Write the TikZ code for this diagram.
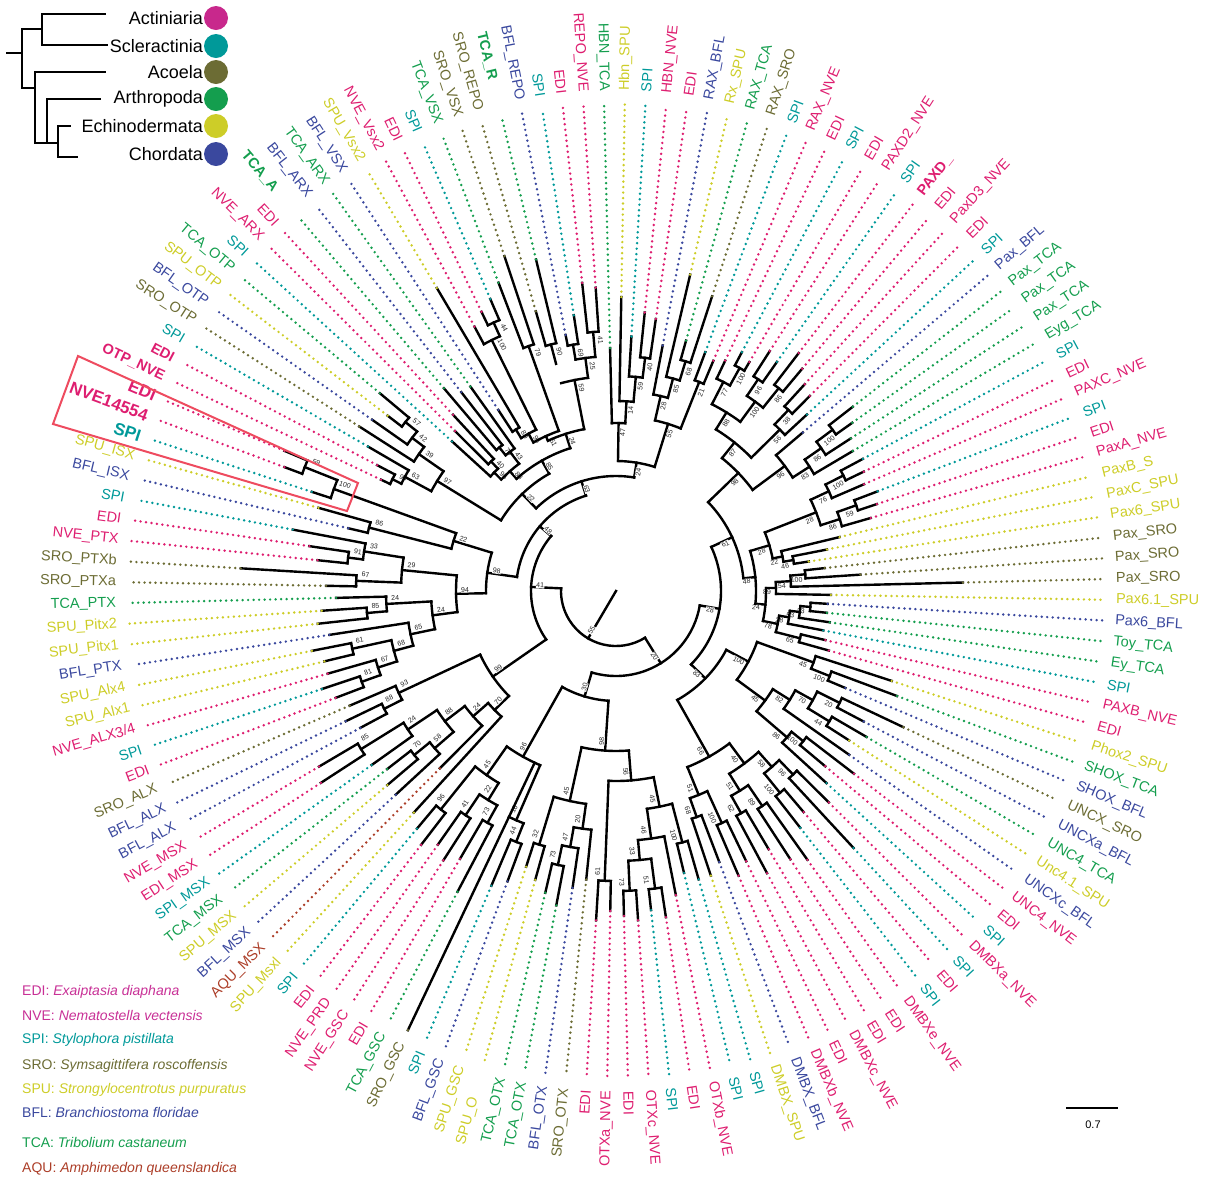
\documentclass[tikz,border=0pt]{standalone}
\usepackage{fontspec}
\setmainfont{Liberation Sans}

\definecolor{act}{RGB}{222,30,112}
\definecolor{spi}{RGB}{0,153,153}
\definecolor{sro}{RGB}{108,108,52}
\definecolor{tca}{RGB}{20,158,78}
\definecolor{spu}{RGB}{205,205,40}
\definecolor{bfl}{RGB}{58,72,158}
\definecolor{aqu}{RGB}{172,62,40}
\definecolor{legact}{RGB}{200,48,150}
\definecolor{dotact}{RGB}{200,40,140}
\definecolor{boxc}{RGB}{238,75,95}

\newcommand\lbf{\fontsize{14.5}{14.5}\selectfont}
\newcommand\bgf{\fontsize{17}{17}\selectfont}

\begin{document}
\begin{tikzpicture}[x=1pt,y=1pt,
  br/.style={line width=2.4pt, line cap=rect, black},
  leader/.style={line width=2.7pt, line cap=round, dash pattern=on 0pt off 5.5pt},
  lab/.style={inner sep=0pt},
  bsl/.style={font=\fontsize{7}{7}\selectfont, fill=white, inner sep=0.4pt, text=black!85},
  clado/.style={line width=2.5pt, line cap=rect},
  grp/.style={font=\fontsize{18}{18}\selectfont, anchor=east, inner sep=0pt},
  gdot/.style={circle, minimum size=24pt, inner sep=0pt},
  leg/.style={font=\fontsize{14}{14}\selectfont, anchor=west, inner sep=0pt}
]
\useasboundingbox (0,0) rectangle (1209,-1179);

% tree
\begin{scope}[shift={(616,-591)}]
\foreach \na/\nb/\nr/\np/\bv [count=\k] in {
  4/5/235/215/40, 3/4.5/215/190/59, 2/3.75/190/168/14, 1/2.875/168/130/47,
  10/11/225/175/21, 8/9/240/220/68, 7/8.5/220/200/85, 6/7.75/200/175/28,
  6.875/10.5/175/130/55, 1.9375/8.6875/130/115/24,
  13/14/255/235/100, 15/16/255/235/96, 17/18/260/235/86, 19/20/250/230/38,
  12/13.5/235/210/77, 15.5/17.5/235/210/100, 19.5/21/230/190/56,
  12.75/16.5/210/190/88, 14.625/20.25/190/170/87,
  23/24/270/250/100, 23.5/25/250/230/86, 24.25/26/230/210/83,
  22/25.125/210/170/96, 17.4375/23.5625/170/128/98,
  27/28/255/235/100, 30/31/255/235/59, 27.5/29/235/215/76, 30.5/32/235/215/86,
  28.25/31.25/215/160/28, 34/35/180/170/46, 33/34.5/170/160/22,
  29.75/33.75/160/140/28, 36/37/190/175/100, 36.5/38/175/160/54,
  37.25/39/160/150/89, 40/41/195/185/23, 40.5/42/185/175/53,
  41.25/43/175/165/28, 44/45/190/165/65, 42.125/44.5/165/150/78,
  38.125/43.3125/150/140/24, 31.75/40.71875/140/128/48,
  20.5/36.234375/128/105/61,
  47/48/230/210/100, 46/47.5/210/150/45, 49/50/250/225/20, 51/52/250/225/44,
  49.5/51.5/225/205/70, 50.5/53/205/185/82, 54/55/240/225/100,
  54.5/56/225/185/86, 51.75/55.25/185/150/45, 46.75/53.5/150/125/100,
  57/58/255/235/96, 59/60/260/235/100, 61/62/260/235/89, 63/64/255/235/62,
  65/66/255/220/100, 67/68/240/220/68, 57.5/59.5/235/215/58,
  61.5/63.5/235/215/51, 58.5/62.5/215/190/40, 65.5/67.5/220/190/51,
  60.5/66.5/190/125/66, 50.125/63.5/125/105/83,
  72/73/300/270/51, 74/75/300/270/73, 76/77/290/190/61, 72.5/74.5/270/250/33,
  71/73.5/250/220/46, 69/70/260/220/100, 69.5/72.25/220/190/45,
  70.875/76.5/190/160/56, 80/81/280/260/73, 79/80.5/260/240/47,
  78/79.75/240/215/20, 82/83/265/215/32, 78.875/82.5/215/160/45,
  73.6875/80.6875/160/110/98, 84/85/270/250/44, 84.5/86/250/190/16,
  87/88/265/245/73, 89/90/270/245/41, 87.5/89.5/245/225/22,
  91/92/280/225/96, 88.5/91.5/225/190/45, 85.25/90/190/110/96,
  77.1875/87.625/110/85/30,
  99/100/300/250/85, 98/99.5/250/215/24, 96/97/260/240/70, 95/96.5/240/215/58,
  95.75/98.75/215/190/88, 94/97.25/190/170/24, 93/95.625/170/150/70,
  101/102/260/240/88, 101.5/103/240/150/93, 94.3125/102.25/150/85/99,
  104/105/270/250/81, 104.5/106/250/230/67, 107/108/270/230/61,
  105.25/107.5/230/210/68, 106.375/109/210/185/65, 110/111/250/230/85,
  110.5/112/230/185/24, 107.6875/111.25/185/160/24, 113/114/260/215/67,
  115/116/270/255/91, 115.5/117/255/215/33, 113.5/116.25/215/160/29,
  109.46875/114.875/160/130/94, 118/119/255/170/86, 121/122/335/300/59,
  120/121.5/300/170/100, 118.5/120.75/170/130/22,
  112.171875/119.625/130/100/98,
  123/124/250/240/98, 123.5/125/240/210/63, 128/129/270/255/57,
  127/128.5/255/240/42, 126/127.75/240/210/39, 124.25/126.875/210/135/97,
  131/132/180/170/40, 130/131.5/170/160/96, 133/134/185/175/70,
  133.5/135/175/160/43, 130.75/134.25/160/150/88, 139/140/295/280/44,
  138/139.5/280/180/100, 136/137/190/180/89, 136.5/138.75/180/170/96,
  141/142/260/170/79, 137.625/141.5/170/165/51, 143/144/255/235/90,
  145/146/250/235/69, 147/148/260/235/41, 145.5/147.5/235/215/25,
  143.5/146.5/215/165/59, 139.5625/145/165/150/24,
  132.5/142.28125/150/135/85, 125.5625/137.390625/135/115/22,
  131.4765625/153.3125/115/100/63, 115.8984375/142.39453/100/85/48,
  98.28125/129.14648/85/55/41, 28.3671875/56.8125/105/85/28,
  42.58984/82.40625/85/55/20, 62.49805/113.71387/55/0/55}{
  \pgfmathsetmacro\ta{91.4-(\na-1)*2.4324}
  \pgfmathsetmacro\tb{91.4-(\nb-1)*2.4324}
  \pgfmathsetmacro\tc{(\ta+\tb)/2}
  \pgfmathsetmacro\tn{mod(\tc+540,360)-180}
  \pgfmathsetmacro\rot{\tn>90 ? \tn-180 : (\tn<-90 ? \tn+180 : \tn)}
  \pgfmathsetmacro\rb{\nr-9}
  \draw[br] (\ta:\nr pt) arc[start angle=\ta, end angle=\tb, radius=\nr pt];
  \draw[br] (\tc:\np pt) -- (\tc:\nr pt);
  \node[bsl, rotate=\rot] (bs\k) at (\tc-1.5:\rb pt) {\bv};
}
\foreach \i/\nm/\cl/\rp/\rt/\w in {
  1/HBN\_TCA/tca/168/243/0, 2/Hbn\_SPU/spu/190/294/0, 3/SPI/spi/215/255/0,
  4/HBN\_NVE/act/235/280/0, 5/EDI/act/235/275/0, 6/RAX\_BFL/bfl/200/250/0,
  7/Rx\_SPU/spu/220/325/0, 8/RAX\_TCA/tca/240/260/0, 9/RAX\_SRO/sro/240/310/0,
  10/SPI/spi/225/255/0, 11/RAX\_NVE/act/225/250/0, 12/EDI/act/235/255/0,
  13/SPI/spi/255/270/0, 14/EDI/act/255/265/0, 15/PAXD2\_NVE/act/255/285/0,
  16/SPI/spi/255/280/0, 17/PAXD\_/act/260/300/1, 18/EDI/act/260/290/0,
  19/PaxD3\_NVE/act/250/280/0, 20/EDI/act/250/275/0, 21/SPI/spi/230/260/0,
  22/Pax\_BFL/bfl/210/245/0, 23/Pax\_TCA/tca/270/300/0, 24/Pax\_TCA/tca/270/290/0,
  25/Pax\_TCA/tca/250/280/0, 26/Eyg\_TCA/tca/230/275/0, 27/SPI/spi/255/280/0,
  28/EDI/act/255/275/0, 29/PAXC\_NVE/act/235/270/0, 30/SPI/spi/255/280/0,
  31/EDI/act/255/275/0, 32/PaxA\_NVE/act/235/265/0, 33/PaxB\_S/spu/170/230/0,
  34/PaxC\_SPU/spu/180/215/0, 35/Pax6\_SPU/spu/180/195/0, 36/Pax\_SRO/sro/190/210/0,
  37/Pax\_SRO/sro/190/245/0, 38/Pax\_SRO/sro/175/347/0, 39/Pax6.1\_SPU/spu/160/215/0,
  40/Pax6\_BFL/bfl/195/212/0, 41/Toy\_TCA/tca/195/212/0, 42/Ey\_TCA/tca/185/216/0,
  43/SPI/spi/175/211/0, 44/PAXB\_NVE/act/190/215/0, 45/EDI/act/190/221/0,
  46/Phox2\_SPU/spu/210/290/0, 47/SHOX\_TCA/tca/230/300/0, 48/SHOX\_BFL/bfl/230/249/0,
  49/UNCX\_SRO/sro/250/318/0, 50/UNCXa\_BFL/bfl/250/280/0, 51/UNC4\_TCA/tca/250/290/0,
  52/Unc4.1\_SPU/spu/250/277/0, 53/UNCXc\_BFL/bfl/205/285/0, 54/UNC4\_NVE/act/240/300/0,
  55/EDI/act/240/273/0, 56/SPI/spi/225/285/0, 57/DMBXa\_NVE/act/255/300/0,
  58/SPI/spi/255/350/0, 59/EDI/act/260/290/0, 60/SPI/spi/260/300/0,
  61/DMBXe\_NVE/act/260/330/0, 62/EDI/act/260/320/0, 63/EDI/act/255/300/0,
  64/DMBXc\_NVE/act/255/320/0, 65/EDI/act/255/300/0, 66/DMBXb\_NVE/act/255/310/0,
  67/DMBX\_BFL/bfl/240/290/0, 68/DMBX\_SPU/spu/240/300/0, 69/SPI/spi/260/300/0,
  70/SPI/spi/260/290/0, 71/OTXb\_NVE/act/250/310/0, 72/EDI/act/300/330/0,
  73/SPI/spi/300/321/0, 74/OTXc\_NVE/act/300/330/0, 75/EDI/act/300/325/0,
  76/OTXa\_NVE/act/290/320/0, 77/EDI/act/290/330/0, 78/SRO\_OTX/sro/240/290/0,
  79/BFL\_OTX/bfl/260/300/0, 80/TCA\_OTX/tca/280/320/0, 81/TCA\_OTX/tca/280/310/0,
  82/SPU\_O/spu/265/300/3, 83/SPU\_GSC/spu/265/290/0, 84/BFL\_GSC/bfl/270/310/0,
  85/SPI/spi/270/320/0, 86/SRO\_GSC/sro/190/486/0, 87/TCA\_GSC/tca/265/340/0,
  88/EDI/act/265/310/0, 89/NVE\_GSC/act/270/320/0, 90/NVE\_PRD/act/270/310/0,
  91/EDI/act/280/320/0, 92/SPI/spi/280/310/0, 93/SPU\_Msxl/spu/170/300/0,
  94/AQU\_MSX/aqu/190/250/0, 95/BFL\_MSX/bfl/240/300/0, 96/SPU\_MSX/spu/260/300/0,
  97/TCA\_MSX/tca/260/290/0, 98/SPI\_MSX/spi/250/300/0, 99/EDI\_MSX/act/300/352/0,
  100/NVE\_MSX/act/300/345/0, 101/BFL\_ALX/bfl/260/290/0, 102/BFL\_ALX/bfl/260/300/0,
  103/SRO\_ALX/sro/240/290/0, 104/EDI/act/270/300/0, 105/SPI/spi/270/310/0,
  106/{NVE\_ALX3/4}/act/250/300/0, 107/SPU\_Alx1/spu/270/300/0, 108/SPU\_Alx4/spu/270/310/0,
  109/BFL\_PTX/bfl/210/290/0, 110/SPU\_Pitx1/spu/250/300/0, 111/SPU\_Pitx2/spu/250/295/0,
  112/TCA\_PTX/tca/230/280/0, 113/SRO\_PTXa/sro/260/290/0, 114/SRO\_PTXb/sro/260/376/0,
  115/NVE\_PTX/act/270/300/0, 116/EDI/act/270/310/0, 117/SPI/spi/255/329/0,
  118/BFL\_ISX/bfl/255/275/0, 119/SPU\_ISX/spu/255/309/0, 120/SPI/spi/300/320/2,
  121/NVE14554/act/335/354/2, 122/EDI/act/335/360/2, 123/OTP\_NVE/act/250/260/1,
  124/EDI/act/250/270/1, 125/SPI/spi/240/287/0, 126/SRO\_OTP/sro/240/305/0,
  127/BFL\_OTP/bfl/255/298/0, 128/SPU\_OTP/spu/270/288/0, 129/TCA\_OTP/tca/270/308/0,
  130/SPI/spi/170/222/0, 131/NVE\_ARX/act/180/227/0, 132/EDI/act/180/240/0,
  133/TCA\_A/tca/185/266/4, 134/BFL\_ARX/bfl/185/252/0, 135/TCA\_ARX/tca/175/251/0,
  136/BFL\_VSX/bfl/190/216/0, 137/SPU\_Vsx2/spu/190/352/0, 138/NVE\_Vsx2/act/280/300/0,
  139/EDI/act/295/310/0, 140/SPI/spi/295/318/0, 141/TCA\_VSX/tca/260/330/0,
  142/SRO\_VSX/sro/260/353/0, 143/SRO\_REPO/sro/255/291/0, 144/TCA\_R/tca/255/341/4,
  145/BFL\_REPO/bfl/250/261/0, 146/SPI/spi/250/279/0, 147/EDI/act/260/310/0,
  148/REPO\_NVE/act/260/304/0}{
  \pgfmathsetmacro\ang{91.4-(\i-1)*2.4324}
  \pgfmathsetmacro\tn{mod(\ang+540,360)-180}
  \pgfmathtruncatemacro\lft{abs(\tn)>90}
  \draw[br] (\ang:\rp pt) -- (\ang:\rt pt);
  \draw[leader, color=\cl] (\ang:\rt pt) -- (\ang:488pt);
  \ifcase\w \def\fnt{\lbf}\or \def\fnt{\lbf\bfseries}\or \def\fnt{\bgf\bfseries}\or
    \def\fnt{\lbf}\or \def\fnt{\lbf\bfseries}\fi
  \ifnum\lft=1
    \pgfmathsetmacro\rot{\tn>0 ? \tn-180 : \tn+180}
    \ifnum\w>2
      \node[lab, text=\cl, font=\fnt, anchor=west, rotate=\rot] (l\i) at (\ang:575pt) {\nm};
    \else
      \node[lab, text=\cl, font=\fnt, anchor=east, rotate=\rot] (l\i) at (\ang:500pt) {\nm};
    \fi
  \else
    \node[lab, text=\cl, font=\fnt, anchor=west, rotate=\tn] (l\i) at (\ang:500pt) {\nm};
  \fi
}
\end{scope}

% highlighted clade
\draw[boxc, line width=2pt] (78,-356) -- (53,-424) -- (347,-511) -- (358,-483) -- cycle;

% group cladogram
\draw[clado] (7,-53) -- (22,-53);
\draw[clado] (22,-29) -- (22,-88);
\draw[clado] (22,-29) -- (42,-29);
\draw[clado] (42,-14) -- (42,-45);
\draw[clado] (42,-14) -- (105,-14);
\draw[clado] (42,-45) -- (107,-45);
\draw[clado] (22,-88) -- (35,-88);
\draw[clado] (35,-72) -- (35,-143);
\draw[clado] (35,-72) -- (105,-72);
\draw[clado] (35,-143) -- (58,-143);
\draw[clado] (47,-99) -- (47,-143);
\draw[clado] (47,-99) -- (100,-99);
\draw[clado] (58,-126) -- (58,-157);
\draw[clado] (58,-126) -- (70,-126);
\draw[clado] (58,-157) -- (77,-157);
\foreach \g/\gc/\gy [count=\k] in {Actiniaria/dotact/18, Scleractinia/spi/46,
    Acoela/sro/72, Arthropoda/tca/99, Echinodermata/spu/126, Chordata/bfl/154}{
  \node[grp] (g\k) at (203,-\gy) {\g};
  \node[gdot, fill=\gc] (d\k) at (216,-\gy) {};
}

% species key
\node[leg, text=legact] (k1) at (22,-992) {EDI: \textit{Exaiptasia diaphana}};
\node[leg, text=legact] (k2) at (22,-1015) {NVE: \textit{Nematostella vectensis}};
\node[leg, text=spi] (k3) at (22,-1040) {SPI: \textit{Stylophora pistillata}};
\node[leg, text=sro] (k4) at (22,-1066) {SRO: \textit{Symsagittifera roscoffensis}};
\node[leg, text=spu] (k5) at (22,-1090) {SPU: \textit{Strongylocentrotus purpuratus}};
\node[leg, text=bfl] (k6) at (22,-1112) {BFL: \textit{Branchiostoma floridae}};
\node[leg, text=tca] (k7) at (22,-1142) {TCA: \textit{Tribolium castaneum}};
\node[leg, text=aqu] (k8) at (22,-1169) {AQU: \textit{Amphimedon queenslandica}};

% scale bar
\coordinate (s1) at (1066,-1108);
\coordinate (s2) at (1118,-1108);
\draw[line width=2pt] (s1) -- (s2);
\node[font=\fontsize{11}{11}\selectfont] (sc) at (1093,-1125) {0.7};
\end{tikzpicture}
\end{document}
